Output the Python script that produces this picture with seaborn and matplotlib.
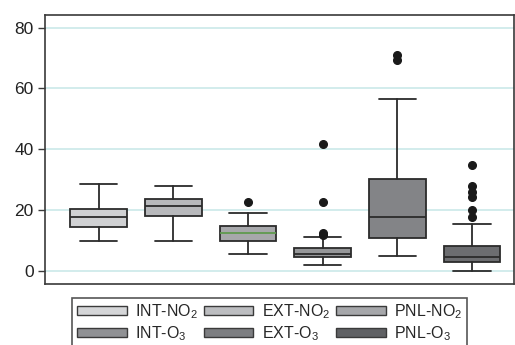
import matplotlib
matplotlib.use("Agg")
import matplotlib.pyplot as plt
import seaborn as sns
from matplotlib.patches import Patch

# five-number summaries (units as on y axis)
groups = ["INT-NO$_2$", "EXT-NO$_2$", "PNL-NO$_2$", "INT-O$_3$", "EXT-O$_3$", "PNL-O$_3$"]
whislo = [9.8, 9.9, 5.7, 1.8, 4.9, 0.1]
q1 = [14.3, 18.2, 9.9, 4.7, 10.9, 3.0]
med = [17.7, 21.3, 12.5, 5.5, 17.8, 4.7]
q3 = [20.2, 23.7, 14.9, 7.6, 30.3, 8.2]
whishi = [28.5, 27.9, 19.0, 11.2, 56.6, 15.5]
fliers = [
    [],
    [],
    [22.6],
    [11.8, 12.5, 22.6, 41.7],
    [69.2, 71.0],
    [17.7, 19.9, 24.4, 25.8, 28.0, 34.8],
]
colors = ["#d0d1d3", "#b8b9bc", "#a7a8ab", "#969799", "#838487", "#6c6d70"]
median_colors = ["#2b2b2b", "#2b2b2b", "#5f9a4e", "#2b2b2b", "#2b2b2b", "#2b2b2b"]
yticks = [0, 20, 40, 60, 80]

sns.set_style("white")
plt.rcParams["font.family"] = ["Liberation Sans", "DejaVu Sans"]
plt.rcParams["mathtext.default"] = "regular"

fig = plt.figure(figsize=(5.15, 3.45), dpi=100)
ax = fig.add_axes([0.087, 0.177, 0.912, 0.78])

stats = []
for i in range(len(groups)):
    stats.append(dict(whislo=whislo[i], q1=q1[i], med=med[i], q3=q3[i],
                      whishi=whishi[i], fliers=fliers[i], label=groups[i]))

edge = "#2b2b2b"
bp = ax.bxp(stats, positions=range(len(groups)), widths=0.76, capwidths=0.5,
            patch_artist=True, showfliers=True,
            boxprops=dict(edgecolor=edge, linewidth=1.3),
            whiskerprops=dict(color=edge, linewidth=1.3),
            capprops=dict(color=edge, linewidth=1.3),
            medianprops=dict(linewidth=1.3),
            flierprops=dict(marker="o", markerfacecolor="#1a1a1a",
                            markeredgecolor="#1a1a1a", markersize=5.5))
for box, c in zip(bp["boxes"], colors):
    box.set_facecolor(c)
for m, c in zip(bp["medians"], median_colors):
    m.set_color(c)

ax.set_xlim(-0.724, 5.57)
ax.set_ylim(-4.3, 84.2)
ax.set_yticks(yticks)
ax.set_xticks([])
for y in yticks:
    ax.axhline(y, color="#d2ecec", linewidth=1.4, zorder=0)
for s in ax.spines.values():
    s.set_color("#3a3a3a")
    s.set_linewidth(1.2)
ax.tick_params(axis="y", left=True, length=5, width=1, color="#3a3a3a",
               labelsize=12.5, labelcolor="#222222", pad=3)

legend_colors = ["#d5d6d8", "#bcbdc0", "#a6a7aa", "#909194", "#7d7e81", "#606164"]
handles = [Patch(facecolor=c, edgecolor="#3a3a3a", linewidth=1) for c in legend_colors]
order = [0, 3, 1, 4, 2, 5]
leg = fig.legend([handles[i] for i in order], [groups[i] for i in order],
                 ncol=3, loc="upper center", bbox_to_anchor=(0.524, 0.137),
                 borderaxespad=0,
                 fontsize=11.5, frameon=True, fancybox=False, edgecolor="#2b2b2b",
                 handlelength=3.1, handleheight=0.5, handletextpad=0.55,
                 columnspacing=0.35, labelspacing=0.2, borderpad=0.3)
leg.get_frame().set_linewidth(1.2)

plt.savefig("out.png", dpi=100)
plt.close()
